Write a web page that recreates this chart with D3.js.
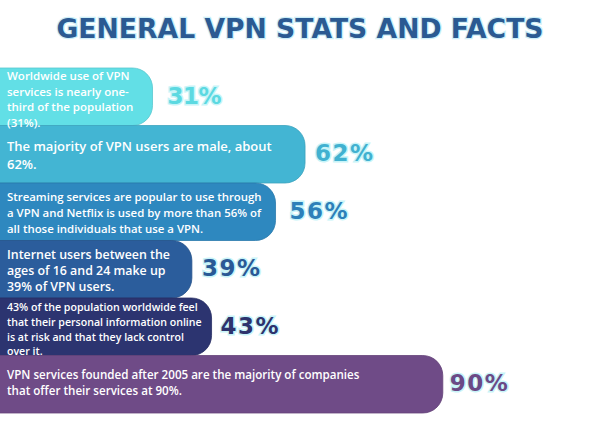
<!DOCTYPE html>
<html>
<head>
<meta charset="utf-8">
<script src="https://cdn.jsdelivr.net/npm/d3@7/dist/d3.min.js"></script>
<style>
    body { margin: 0; background: #ffffff; }
    #chart { width: 600px; height: 440px; }
</style>
</head>
<body>
<div id="chart"></div>
<script>
const title = "GENERAL VPN STATS AND FACTS";
const facts = ["worldwide", "male", "streaming", "age", "privacy", "founded"];
const values = [31, 62, 56, 39, 43, 90];
const factLines = [
    ["Worldwide use of VPN", "services is nearly one-", "third of the population", "(31%)."],
    ["The majority of VPN users are male, about", "62%."],
    ["Streaming services are popular to use through", "a VPN and Netflix is used by more than 56% of", "all those individuals that use a VPN."],
    ["Internet users between the", "ages of 16 and 24 make up", "39% of VPN users."],
    ["43% of the population worldwide feel", "that their personal information online", "is at risk and that they lack control", "over it."],
    ["VPN services founded after 2005 are the majority of companies", "that offer their services at 90%."]
];
const barColors = ["#62dfe6", "#43b5d3", "#2e88bf", "#2b5d9c", "#2c3470", "#6f4b87"];
const labelColors = ["#5cd9e1", "#41b1d0", "#2d80b9", "#2a5996", "#2d336d", "#6b4986"];

const width = 600, height = 440;
const svg = d3.select("#chart").append("svg").attr("width", width).attr("height", height);

const x = d3.scaleLinear().domain([0, 100]).range([0, 492]);
const y = d3.scaleBand().domain(facts).range([68, 413]).padding(0);

// per-bar text sizing (font size, line step, first baseline offset)
const textStyle = [
    { size: 11.5, step: 15.7, top: 12 },
    { size: 13, step: 18.5, top: 25 },
    { size: 11.4, step: 16, top: 18 },
    { size: 12.4, step: 16, top: 18 },
    { size: 10.6, step: 14.8, top: 13 },
    { size: 11.6, step: 16.5, top: 23 }
];
const labelGap = [15, 10, 14, 10, 9, 7];

svg.append("text")
    .attr("x", width / 2)
    .attr("y", 38)
    .attr("text-anchor", "middle")
    .attr("font-family", "DejaVu Sans")
    .attr("font-weight", "bold")
    .attr("font-size", 26)
    .attr("textLength", 487)
    .attr("lengthAdjust", "spacingAndGlyphs")
    .attr("fill", "#2b5a92")
    .attr("stroke", "#cdeff8")
    .attr("stroke-width", 2.5)
    .attr("paint-order", "stroke")
    .text(title);

const rowData = facts.map((f, i) => ({ f, i, v: values[i], lines: factLines[i] }));

svg.append("g").selectAll("rect")
    .data(rowData)
    .join("rect")
    .attr("x", -30)
    .attr("y", d => y(d.f))
    .attr("width", d => x(d.v) + 30)
    .attr("height", y.bandwidth())
    .attr("rx", 20)
    .attr("fill", d => barColors[d.i])
    .attr("stroke", d => d3.color(barColors[d.i]).darker(0.3))
    .attr("stroke-width", 0.8);

// fact texts drawn over all bars, the first one spills onto the next bar
svg.append("g").selectAll("text")
    .data(rowData)
    .join("text")
    .attr("font-family", "Open Sans")
    .attr("font-weight", 600)
    .attr("font-size", d => textStyle[d.i].size)
    .attr("fill", "#ffffff")
    .each(function (d) {
        const st = textStyle[d.i];
        d3.select(this).selectAll("tspan")
            .data(d.lines)
            .join("tspan")
            .attr("x", 7)
            .attr("y", (l, j) => y(d.f) + st.top + j * st.step)
            .text(l => l);
    });

svg.append("g").selectAll("text")
    .data(rowData)
    .join("text")
    .attr("x", d => x(d.v) + labelGap[d.i])
    .attr("y", d => y(d.f) + y.bandwidth() / 2 + 7)
    .attr("font-family", "DejaVu Sans")
    .attr("font-weight", "bold")
    .attr("font-size", 23)
    .attr("letter-spacing", d => d.i === 0 ? -0.5 : 1.5)
    .attr("fill", d => labelColors[d.i])
    .attr("stroke", "#c8f4f8")
    .attr("stroke-width", 3)
    .attr("paint-order", "stroke")
    .text(d => d.v + "%");
</script>
</body>
</html>
